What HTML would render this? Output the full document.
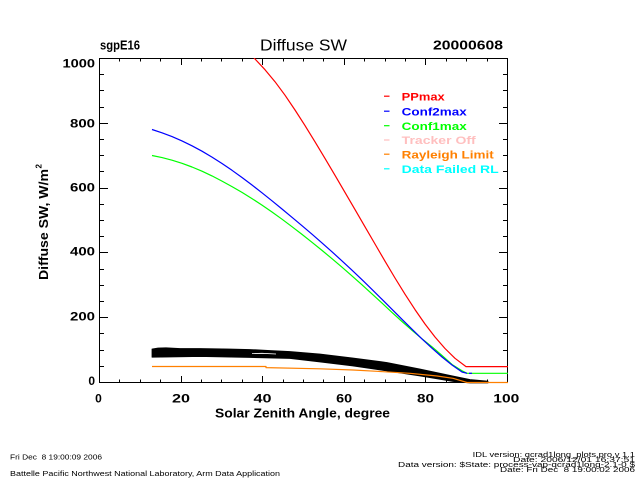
<!DOCTYPE html>
<html>
<head>
<meta charset="utf-8">
<style>
  html,body{margin:0;padding:0;background:#fff;}
  svg{display:block;}
  text{font-family:"Liberation Sans",sans-serif;}
</style>
</head>
<body>
<svg width="640" height="480" viewBox="0 0 640 480" xmlns="http://www.w3.org/2000/svg">
  <rect x="0" y="0" width="640" height="480" fill="#fff"/>
  <defs>
    <clipPath id="plot"><rect x="99" y="58" width="409" height="325.5"/></clipPath>
  </defs>

  <!-- Titles -->
  <text x="100" y="49.5" font-size="12.5" font-weight="bold" textLength="40" lengthAdjust="spacingAndGlyphs">sgpE16</text>
  <text x="260" y="50.7" font-size="16" textLength="87" lengthAdjust="spacingAndGlyphs">Diffuse SW</text>
  <text x="433" y="49.3" font-size="12.5" font-weight="bold" textLength="70" lengthAdjust="spacingAndGlyphs">20000608</text>

  <!-- Axes box -->
  <g stroke="#000" stroke-width="1.3" fill="none" shape-rendering="crispEdges">
    <rect x="99.5" y="58.5" width="408" height="324"/>
  </g>

  <!-- X ticks bottom & top -->
  <g stroke="#000" stroke-width="1" shape-rendering="crispEdges">
    <path d="
    M99.5 382.5 V376 M181.5 382.5 V376 M262.5 382.5 V376 M344.5 382.5 V376 M425.5 382.5 V376 M507.5 382.5 V376
    M119.5 382.5 V379.3 M140.5 382.5 V379.3 M160.5 382.5 V379.3
    M201.5 382.5 V379.3 M221.5 382.5 V379.3 M242.5 382.5 V379.3
    M283.5 382.5 V379.3 M303.5 382.5 V379.3 M323.5 382.5 V379.3
    M364.5 382.5 V379.3 M385.5 382.5 V379.3 M405.5 382.5 V379.3
    M446.5 382.5 V379.3 M466.5 382.5 V379.3 M487.5 382.5 V379.3
    M99.5 58.5 V65 M181.5 58.5 V65 M262.5 58.5 V65 M344.5 58.5 V65 M425.5 58.5 V65 M507.5 58.5 V65
    M119.5 58.5 V61.7 M140.5 58.5 V61.7 M160.5 58.5 V61.7
    M201.5 58.5 V61.7 M221.5 58.5 V61.7 M242.5 58.5 V61.7
    M283.5 58.5 V61.7 M303.5 58.5 V61.7 M323.5 58.5 V61.7
    M364.5 58.5 V61.7 M385.5 58.5 V61.7 M405.5 58.5 V61.7
    M446.5 58.5 V61.7 M466.5 58.5 V61.7 M487.5 58.5 V61.7
    "/>
    <!-- Y ticks left & right -->
    <path d="
    M99.5 317.5 H108 M99.5 252.5 H108 M99.5 188.5 H108 M99.5 123.5 H108
    M99.5 366.5 H104 M99.5 350.5 H104 M99.5 333.5 H104
    M99.5 301.5 H104 M99.5 285.5 H104 M99.5 269.5 H104
    M99.5 236.5 H104 M99.5 220.5 H104 M99.5 204.5 H104
    M99.5 171.5 H104 M99.5 155.5 H104 M99.5 139.5 H104
    M99.5 107.5 H104 M99.5 90.5 H104 M99.5 74.5 H104
    M507.5 317.5 H499 M507.5 252.5 H499 M507.5 188.5 H499 M507.5 123.5 H499
    M507.5 366.5 H503 M507.5 350.5 H503 M507.5 333.5 H503
    M507.5 301.5 H503 M507.5 285.5 H503 M507.5 269.5 H503
    M507.5 236.5 H503 M507.5 220.5 H503 M507.5 204.5 H503
    M507.5 171.5 H503 M507.5 155.5 H503 M507.5 139.5 H503
    M507.5 107.5 H503 M507.5 90.5 H503 M507.5 74.5 H503
    "/>
  </g>

  <!-- Y tick labels -->
  <g font-size="12" font-weight="bold" text-anchor="end">
    <text x="95" y="385.2">0</text>
    <text x="95" y="320.7" textLength="25" lengthAdjust="spacingAndGlyphs">200</text>
    <text x="95" y="255.5" textLength="25" lengthAdjust="spacingAndGlyphs">400</text>
    <text x="95" y="191.7" textLength="25" lengthAdjust="spacingAndGlyphs">600</text>
    <text x="95" y="127.5" textLength="25" lengthAdjust="spacingAndGlyphs">800</text>
    <text x="95" y="67.7" textLength="32.5" lengthAdjust="spacingAndGlyphs">1000</text>
  </g>

  <!-- X tick labels -->
  <g font-size="12" font-weight="bold" text-anchor="middle">
    <text x="98.5" y="402.5">0</text>
    <text x="181" y="402.5" textLength="18" lengthAdjust="spacingAndGlyphs">20</text>
    <text x="262.5" y="402.5" textLength="18" lengthAdjust="spacingAndGlyphs">40</text>
    <text x="344.2" y="402.5" textLength="16" lengthAdjust="spacingAndGlyphs">60</text>
    <text x="425.5" y="402.5" textLength="17" lengthAdjust="spacingAndGlyphs">80</text>
    <text x="506.3" y="402.5" textLength="26" lengthAdjust="spacingAndGlyphs">100</text>
  </g>

  <!-- Axis titles -->
  <text x="215" y="417.3" font-size="12.5" font-weight="bold" textLength="175" lengthAdjust="spacingAndGlyphs">Solar Zenith Angle, degree</text>
  <text transform="translate(48,280) rotate(-90)" font-size="12.5" font-weight="bold" textLength="111" lengthAdjust="spacingAndGlyphs">Diffuse SW, W/m</text>
  <text transform="translate(41.5,168.5) rotate(-90)" font-size="8" font-weight="bold">2</text>

  <!-- Data -->
  <g clip-path="url(#plot)" fill="none" stroke-linejoin="round">
    <!-- black measured data band -->
    <polygon fill="#000" stroke="#000" stroke-width="0.8" points="
      152,349 158,348 166,347.8 180,348.5 200,348.5 230,349 250,349.5 270,350.5 290,351.5 320,354 353,358 387,362.5 420,369 453,376 470,379.5 488,381.2
      488,383 470,383 453,381.5 420,376 387,371 353,366 320,362 290,358.5 250,357.5 200,356.5 170,357 152,357.2"/>
    <polyline stroke="#fff" stroke-width="0.8" points="252,353.6 262,353.3 276,354"/>
    <!-- Rayleigh limit (orange) -->
    <polyline stroke="#ff8000" stroke-width="1.2" points="152,366.5 266,366.5 266,367.6 320,368.8 353,370 377,371.3 410,373.3 437,376 453,378.3 467,382.5 508,382.5"/>
    <!-- Conf1max (green) -->
    <polyline stroke="#00ff00" stroke-width="1.2" points="152,155.5 162,157.6 172,160.2 182,163.3 192,167 202,171.2 212,175.9 222,181.1 232,186.6 242,192.4 252,198.6 262,205.1 272,212 282,219.2 292,226.7 302,234.4 312,242.3 322,250.4 332,258.7 342,267.2 352,275.9 362,284.8 372,293.9 382,303.1 392,312.4 402,321.5 412,330.3 422,338.8 432,346.8 442,355.5 452,364.5 462,370.8 467,373.3 508,373.3"/>
    <!-- Conf2max (blue) -->
    <polyline stroke="#0000ff" stroke-width="1.2" points="152,129.5 162,132.8 172,136.6 182,140.9 192,145.8 202,151.2 212,157.1 222,163.5 232,170.3 242,177.5 252,185 262,192.8 272,200.8 282,209 292,217.3 302,225.7 312,234.2 322,242.9 332,251.8 342,260.9 352,270.2 362,279.7 372,289.4 382,299.3 392,309.3 402,319.3 412,329.2 422,338.9 432,348.2 442,357 452,365 462,372 467,373.3"/>
    <polyline stroke="#0000ff" stroke-width="1.2" points="469,373.3 472,373.3"/>
    <!-- PPmax (red) -->
    <polyline stroke="#ff0000" stroke-width="1.2" points="251,54 255,59 265,69.7 275,81.7 285,95.2 295,110 305,125.6 315,141.8 325,158.4 335,175.3 345,192.4 355,209.6 365,226.8 375,244 385,261.2 395,278 405,294.2 415,309.6 425,324 435,337 445,348.5 455,358.3 466,366.6 508,366.6"/>
  </g>

  <!-- Legend -->
  <g stroke-width="1.2">
    <line x1="384" y1="96.2" x2="389.5" y2="96.2" stroke="#ff0000"/>
    <line x1="384" y1="111.2" x2="389.5" y2="111.2" stroke="#0000ff"/>
    <line x1="384" y1="125.7" x2="389.5" y2="125.7" stroke="#00ff00"/>
    <line x1="384" y1="140" x2="389.5" y2="140" stroke="#ffbfbf"/>
    <line x1="384" y1="154.2" x2="389.5" y2="154.2" stroke="#ff8000"/>
    <line x1="384" y1="168.8" x2="389.5" y2="168.8" stroke="#00ffff"/>
  </g>
  <g font-size="11.2" font-weight="bold">
    <text x="401.7" y="100.7" fill="#ff0000" textLength="43" lengthAdjust="spacingAndGlyphs">PPmax</text>
    <text x="401.7" y="115.7" fill="#0000ff" textLength="65" lengthAdjust="spacingAndGlyphs">Conf2max</text>
    <text x="401.7" y="130" fill="#00ff00" textLength="65" lengthAdjust="spacingAndGlyphs">Conf1max</text>
    <text x="401.7" y="144.2" fill="#ffbfbf" textLength="74" lengthAdjust="spacingAndGlyphs">Tracker Off</text>
    <text x="401.7" y="158.4" fill="#ff8000" textLength="92" lengthAdjust="spacingAndGlyphs">Rayleigh Limit</text>
    <text x="401.7" y="173.2" fill="#00ffff" textLength="97" lengthAdjust="spacingAndGlyphs">Data Failed RL</text>
  </g>

  <!-- Footer left -->
  <g font-size="7.2">
    <text x="10" y="459.3" textLength="92" lengthAdjust="spacingAndGlyphs">Fri Dec &#160;8 19:00:09 2006</text>
    <text x="10" y="476" textLength="270" lengthAdjust="spacingAndGlyphs">Battelle Pacific Northwest National Laboratory, Arm Data Application</text>
  </g>
  <!-- Footer right -->
  <g font-size="7">
    <text x="472.7" y="456.8" textLength="162.3" lengthAdjust="spacingAndGlyphs">IDL version: qcrad1long_plots.pro,v 1.1</text>
    <text x="513" y="461.8" textLength="122" lengthAdjust="spacingAndGlyphs">Date: 2006/12/01 16:37:51</text>
    <text x="398" y="466.8" textLength="237" lengthAdjust="spacingAndGlyphs">Data version: $State: process-vap-qcrad1long-2.1-0 $</text>
    <text x="500" y="472.2" textLength="135" lengthAdjust="spacingAndGlyphs">Date: Fri Dec &#160;8 19:00:02 2006</text>
  </g>
</svg>
</body>
</html>
